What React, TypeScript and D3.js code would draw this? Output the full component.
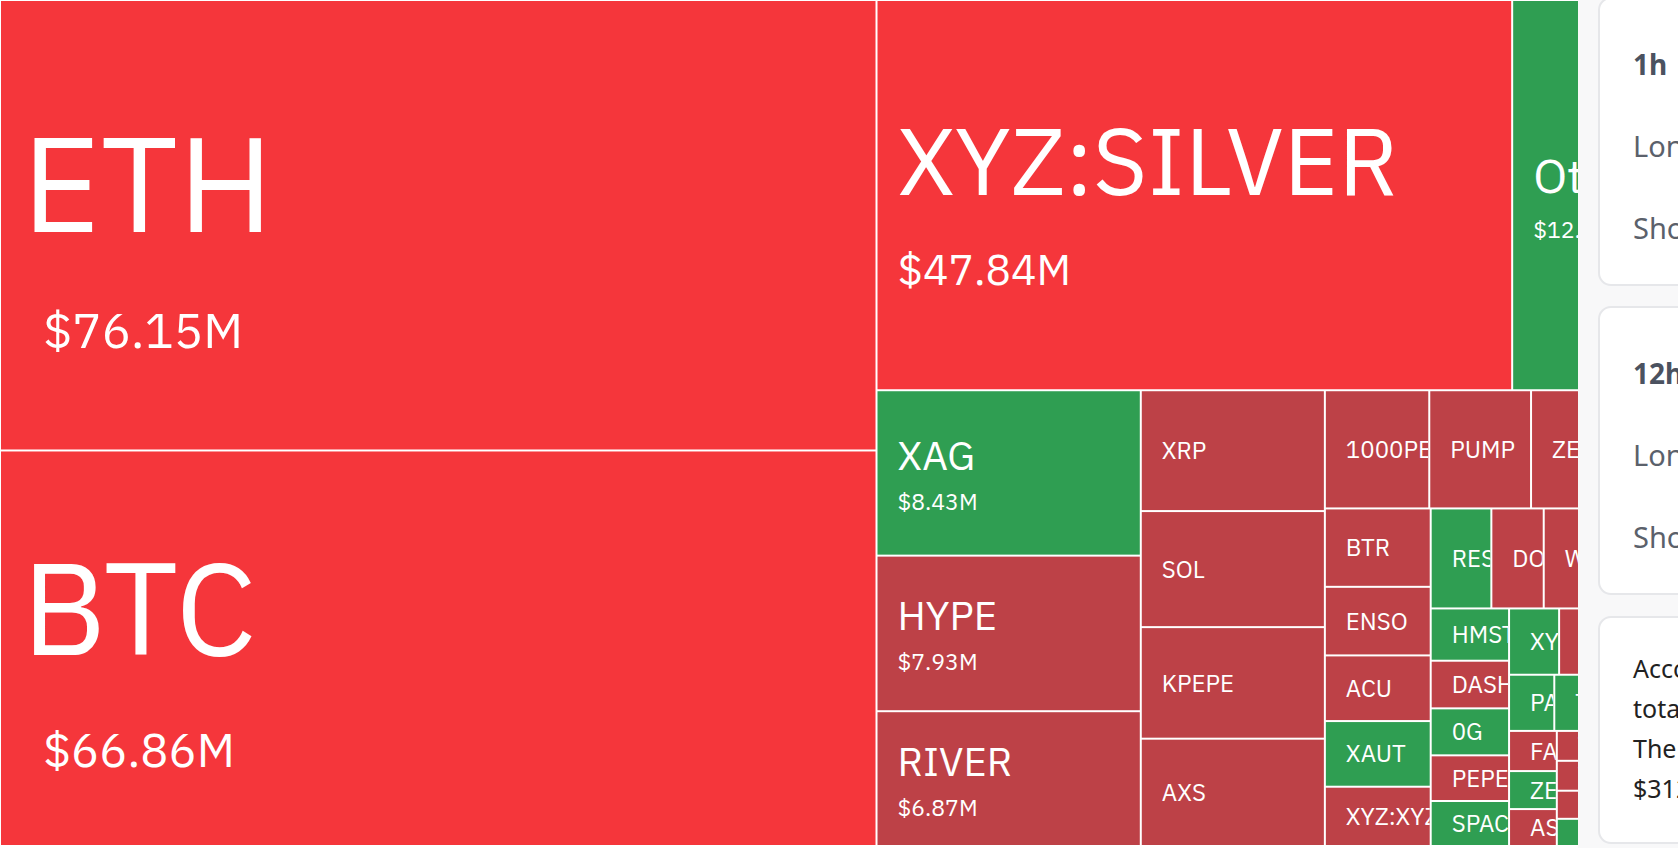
import React from 'react';
import * as d3 from 'd3';

// ---------- data ----------
const symbols = [
  'ETH', 'BTC', 'XYZ:SILVER', 'Other', 'XAG', 'HYPE', 'RIVER', 'XRP', 'SOL', 'KPEPE', 'AXS',
  '1000PEPE', 'PUMP', 'ZEC', 'ENA', 'BTR', 'ENSO', 'ACU', 'XAUT', 'XYZ:XYZ100',
  'RESOLV', 'DOGE', 'WLFI', 'SUI', 'LINK', 'HMSTR', 'DASH', '0G', 'PEPE', 'SPACE',
  'XYZ:GOLD', 'AVAX', 'LTC', 'ADA', 'PAXG', 'TAO', 'BNB', 'ONDO', 'FARTCOIN', 'ZEREBRO', 'ASTER',
  'TRUMP', 'WIF', 'KBONK', 'NEAR', 'APT', 'ARB', 'OP', 'INJ', 'TIA', 'SEI', 'JUP', 'LDO',
];
const values = [
  76.15, 66.86, 47.84, 12.48, 8.43, 7.93, 6.87, 4.29, 4.12, 3.96, 3.81,
  2.38, 2.32, 1.72, 1.63, 1.60, 1.40, 1.34, 1.34, 1.21,
  1.17, 1.01, 0.87, 0.86, 0.86, 0.79, 0.72, 0.71, 0.69, 0.68,
  0.64, 0.52, 0.50, 0.50, 0.49, 0.46, 0.45, 0.43, 0.37, 0.35, 0.34,
  0.33, 0.33, 0.31, 0.30, 0.27, 0.24, 0.21, 0.19, 0.17, 0.14, 0.12, 0.08,
];
// 'L' = long liquidations (red), 'S' = short liquidations (green)
const sides = [
  'L', 'L', 'L', 'S', 'S', 'L', 'L', 'L', 'L', 'L', 'L',
  'L', 'L', 'L', 'L', 'L', 'L', 'L', 'S', 'L',
  'S', 'L', 'L', 'L', 'S', 'S', 'L', 'S', 'L', 'S',
  'S', 'L', 'L', 'S', 'S', 'S', 'L', 'L', 'L', 'S', 'L',
  'L', 'L', 'L', 'S', 'L', 'S', 'L', 'S', 'L', 'S', 'L', 'S',
];

const cardTitles = ['1h', '12h'];
const cardRows = ['Long', 'Short'];
const noteLines = ['According to the data,', 'total liquidations', 'The largest single', '$312.4M'];

// ---------- layout constants ----------
const PAGE_W = 1678;
const PAGE_H = 848;
const TREE_W = 1678;
const TREE_H = 846;
const TREE_VISIBLE_W = 1578;

const RED_BIG = '#f5363b';
const RED = '#bd4147';
const GREEN = '#2f9e52';

const TILE_FONT = "'IBM Plex Sans', 'Noto Sans', sans-serif";
const UI_FONT = "'Noto Sans', 'Open Sans', sans-serif";

const bigName = d3.scaleLinear().domain([47.84, 66.86, 76.15]).range([94, 130, 135]).clamp(true);
const bigValue = d3.scaleLinear().domain([47.84, 66.86, 76.15]).range([42.5, 47, 49]).clamp(true);
const midName = d3.scaleLinear().domain([8.5, 12.5]).range([40, 48]).clamp(true);

function tileColor(d: any) {
  if (d.data.side === 'S') return GREEN;
  return d.data.value >= 20 ? RED_BIG : RED;
}

type Label = { name: number; val: number; nameX: number; valX: number; nameY: number; valY: number };

function labelFor(d: any): Label {
  const w = d.x1 - d.x0;
  const cy = (d.y0 + d.y1) / 2;
  const v = d.data.value;
  if (v >= 20) {
    const name = bigName(v);
    const val = bigValue(v);
    const g = 0.5 * name + val;
    const nameY = cy - g / 2 + 0.48 * name;
    const wide = w > 800;
    return { name, val, nameX: d.x0 + (wide ? 22 : 21), valX: d.x0 + (wide ? 43 : 21), nameY, valY: nameY + g };
  }
  if (v >= 5) {
    const name = midName(v);
    const val = 23;
    const nameY = cy - 3 + (name - 40) * 0.1;
    const g = 40 + (name - 40) * 0.6;
    return { name, val, nameX: d.x0 + 21, valX: d.x0 + 21, nameY, valY: nameY + g };
  }
  return { name: 24, val: 0, nameX: d.x0 + 21, valX: 0, nameY: cy + 8.6, valY: 0 };
}

// keep only the characters that start inside the visible part of the tile
let ctx: CanvasRenderingContext2D | null = null;
function fitText(text: string, size: number, x: number, right: number): string {
  if (x >= right) return '';
  if (!ctx) {
    const c = document.createElement('canvas');
    ctx = c.getContext('2d');
  }
  if (!ctx) return text;
  ctx.font = `${size}px 'Noto Sans'`;
  let out = '';
  for (let i = 0; i < text.length; i++) {
    const start = x + ctx.measureText(text.slice(0, i)).width;
    if (start >= right) break;
    out += text[i];
  }
  return out;
}

export default function App() {
  const root = d3
    .hierarchy<any>({ name: 'root', children: symbols.map((s, i) => ({ name: s, value: values[i], side: sides[i] })) })
    .sum((d: any) => d.value || 0);
  d3.treemap<any>().size([TREE_W, TREE_H]).tile(d3.treemapSquarify)(root);
  const leaves = root.leaves() as any[];

  const fmt = (v: number) => `$${v.toFixed(2)}M`;

  return (
    <svg
      width={PAGE_W}
      height={PAGE_H}
      viewBox={`0 0 ${PAGE_W} ${PAGE_H}`}
      style={{ position: 'absolute', left: 0, top: 0, display: 'block' }}
    >
      <defs>
        <clipPath id="tree-clip">
          <rect x={0} y={0} width={TREE_VISIBLE_W} height={PAGE_H} />
        </clipPath>
        {leaves.map((d, i) => (
          <clipPath id={`tile-${i}`} key={i}>
            <rect x={d.x0 + 1} y={d.y0 + 1} width={Math.max(0, d.x1 - d.x0 - 2)} height={Math.max(0, d.y1 - d.y0 - 2)} />
          </clipPath>
        ))}
      </defs>
      <rect x={0} y={0} width={PAGE_W} height={PAGE_H} fill="#f8f8f9" />
      <rect x={0} y={0} width={TREE_VISIBLE_W} height={PAGE_H} fill="#ffffff" />
      <g clipPath="url(#tree-clip)">
        {leaves.map((d, i) => {
          const w = d.x1 - d.x0;
          const h = d.y1 - d.y0;
          const s = labelFor(d);
          const right = Math.min(d.x1 - 1, TREE_VISIBLE_W);
          const nameText = fitText(d.data.name, s.name, s.nameX, right);
          const valText = s.val > 0 ? fitText(fmt(d.data.value), s.val, s.valX, right) : '';
          return (
            <g key={i}>
              <rect x={d.x0 + 1} y={d.y0 + 1} width={Math.max(0, w - 2)} height={Math.max(0, h - 2)} fill={tileColor(d)} />
              <g clipPath={`url(#tile-${i})`} fill="#ffffff" fontFamily={TILE_FONT}>
                {nameText && <text x={s.nameX} y={s.nameY} fontSize={s.name}>{nameText}</text>}
                {valText && <text x={s.valX} y={s.valY} fontSize={s.val}>{valText}</text>}
              </g>
            </g>
          );
        })}
      </g>

      {/* side panel cards */}
      {cardTitles.map((t, i) => {
        const top = i === 0 ? -2 : 307;
        const textTop = i === 0 ? 0 : 309.3;
        return (
          <g key={t} fontFamily={UI_FONT}>
            <rect x={1599} y={top} width={140} height={287} rx={12} fill="#ffffff" stroke="#e6e7ea" strokeWidth={2} />
            <text x={1633} y={textTop + 74.5} fontSize={28} fontWeight={700} fill="#4b5260">{t}</text>
            {cardRows.map((r, j) => (
              <text key={r} x={1633} y={textTop + 157 + j * 81.5} fontSize={29} fill="#5b616b">{r}</text>
            ))}
          </g>
        );
      })}
      <g fontFamily={UI_FONT}>
        <rect x={1599} y={617} width={140} height={226} rx={12} fill="#ffffff" stroke="#e6e7ea" strokeWidth={2} />
        {noteLines.map((l, j) => (
          <text key={j} x={1633} y={678 + j * 40} fontSize={25} fill="#222222">{l}</text>
        ))}
      </g>
    </svg>
  );
}
